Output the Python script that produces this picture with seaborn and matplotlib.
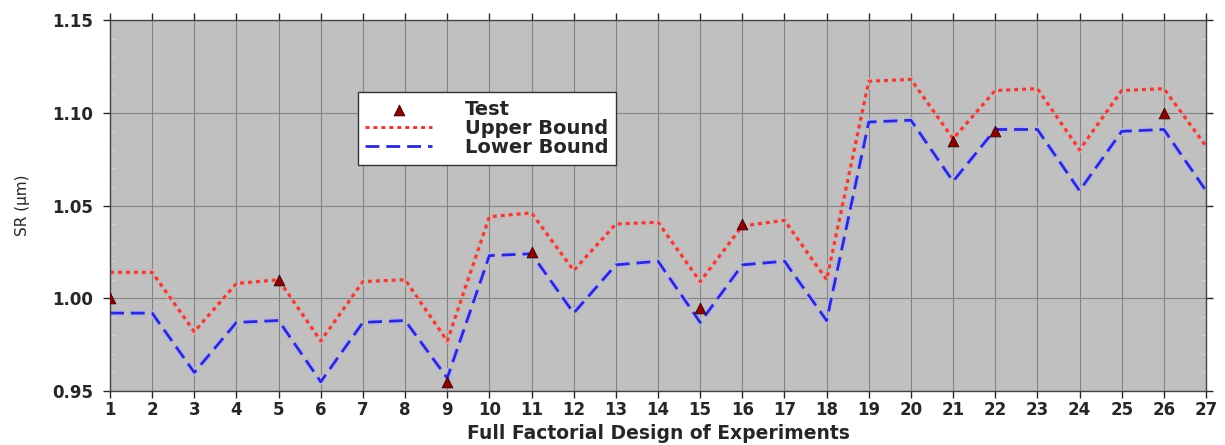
import numpy as np
import pandas as pd
import matplotlib
matplotlib.use("Agg")
import matplotlib.pyplot as plt
import matplotlib.patheffects as pe
from matplotlib.ticker import MultipleLocator, FormatStrFormatter
import seaborn as sns

# experiment numbers 1..27
runs = list(range(1, 28))

upper_bound = [1.014, 1.014, 0.982, 1.008, 1.010, 0.977, 1.009, 1.010, 0.977,
               1.044, 1.046, 1.015, 1.040, 1.041, 1.009, 1.039, 1.042, 1.010,
               1.117, 1.118, 1.086, 1.112, 1.113, 1.080, 1.112, 1.113, 1.082]

lower_bound = [0.992, 0.992, 0.960, 0.987, 0.988, 0.955, 0.987, 0.988, 0.957,
               1.023, 1.024, 0.992, 1.018, 1.020, 0.987, 1.018, 1.020, 0.988,
               1.095, 1.096, 1.063, 1.091, 1.091, 1.058, 1.090, 1.091, 1.058]

test_runs = [1, 5, 9, 11, 15, 16, 21, 22, 26]
test_values = [1.000, 1.010, 0.955, 1.025, 0.995, 1.040, 1.085, 1.090, 1.100]

bounds = pd.DataFrame({"run": runs, "upper": upper_bound, "lower": lower_bound})
tests = pd.DataFrame({"run": test_runs, "SR": test_values})

sns.set_style("ticks")
plt.rcParams['font.family'] = ['DejaVu Sans']

fig = plt.figure(figsize=(12.25, 4.45), dpi=100)
ax = fig.add_axes([0.0898, 0.1213, 0.8947, 0.8337])
ax.set_facecolor("#c0c0c0")

# --------------------------------------------------------------------------
sns.lineplot(data=bounds, x="run", y="upper", ax=ax, color="#e0403a",
             linewidth=2.2, label="Upper Bound")
sns.lineplot(data=bounds, x="run", y="lower", ax=ax, color="#2a2ad0",
             linewidth=2.0, label="Lower Bound")
ax.lines[0].set_dashes((1.3, 1.3))
ax.lines[1].set_dashes((5, 2.5))
ax.lines[0].set_path_effects([pe.Stroke(linewidth=4.5, foreground="#e2aaaa"), pe.Normal()])
ax.lines[1].set_path_effects([pe.Stroke(linewidth=4.5, foreground="#b4b4ea"), pe.Normal()])
sns.scatterplot(data=tests, x="run", y="SR", ax=ax, marker="^", s=60,
                color="#8b0000", edgecolor="#3a0000", linewidth=0.6,
                label="Test", zorder=5)

# --------------------------------------------------------------------------
ax.set_xlim(1, 27)
ax.set_ylim(0.95, 1.15)
ax.set_xticks(runs)
ax.yaxis.set_major_locator(MultipleLocator(0.05))
ax.yaxis.set_minor_locator(MultipleLocator(0.01))
ax.yaxis.set_major_formatter(FormatStrFormatter("%.2f"))
ax.grid(True, which="major", color="#858585", linewidth=0.8)
ax.tick_params(axis="both", which="major", labelsize=12, length=5,
               top=True, right=True, width=1, pad=2)
ax.tick_params(axis="y", which="major", pad=7)
ax.tick_params(axis="y", which="minor", length=3, right=True, direction="in",
               color="#dddddd")
for s in ax.spines.values():
    s.set_color("#444444")
    s.set_linewidth(1)
for lab in ax.get_xticklabels() + ax.get_yticklabels():
    lab.set_fontweight("bold")

ax.set_xlabel("Full Factorial Design of Experiments", fontsize=13.5,
              fontweight="bold", labelpad=4)
ax.set_ylabel("SR (\u00b5m)", fontsize=11, fontweight="normal", labelpad=16)

handles, labels = ax.get_legend_handles_labels()
order = [labels.index("Test"), labels.index("Upper Bound"), labels.index("Lower Bound")]
leg = ax.legend([handles[i] for i in order], [labels[i] for i in order],
                loc="upper left", bbox_to_anchor=(0.226, 0.805), frameon=True,
                fancybox=False, edgecolor="#333333", framealpha=1,
                prop={"weight": "bold", "size": 14}, handlelength=3.4,
                borderpad=0.4, labelspacing=0.0, handletextpad=1.7,
                borderaxespad=0)
leg.get_frame().set_linewidth(1)
for h in leg.get_lines():
    h.set_path_effects([])

fig.savefig("out.png", dpi=100)
